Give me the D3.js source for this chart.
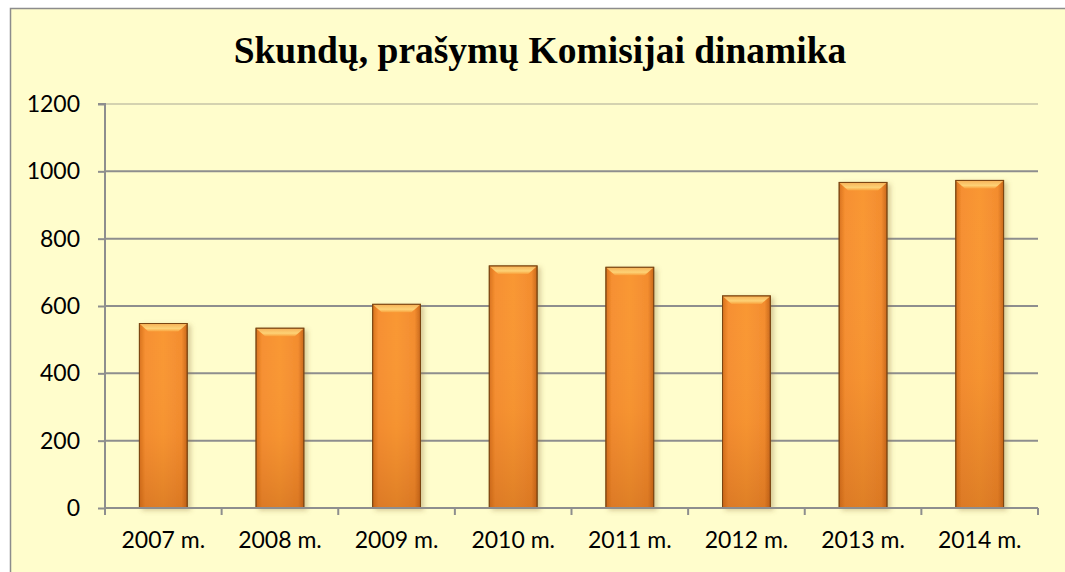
<!DOCTYPE html>
<html>
<head>
<meta charset="utf-8">
<script src="https://cdn.jsdelivr.net/npm/d3@7"></script>
<style>
  body { margin: 0; background: #fff; }
  svg { display: block; }
</style>
</head>
<body>
<script>
var years = ["2007 m.", "2008 m.", "2009 m.", "2010 m.", "2011 m.", "2012 m.", "2013 m.", "2014 m."];
var counts = [548, 534, 605, 719, 715, 630, 967, 973];
var yTicks = [0, 200, 400, 600, 800, 1000, 1200];
var title = "Skundų, prašymų Komisijai dinamika";

var W = 1065, H = 572;
var margin = {top: 104, right: 27, bottom: 64, left: 105},
    width = W - margin.left - margin.right,
    height = H - margin.top - margin.bottom;

var svg = d3.select("body").append("svg")
    .attr("width", W)
    .attr("height", H);

// gradients for the bevelled bars
var defs = svg.append("defs");
var gH = defs.append("linearGradient").attr("id", "barH")
    .attr("x1", 0).attr("x2", 1).attr("y1", 0).attr("y2", 0);
gH.append("stop").attr("offset", "0%").attr("stop-color", "#d8721e");
gH.append("stop").attr("offset", "12%").attr("stop-color", "#f68f30");
gH.append("stop").attr("offset", "50%").attr("stop-color", "#f99733");
gH.append("stop").attr("offset", "88%").attr("stop-color", "#f38c2e");
gH.append("stop").attr("offset", "100%").attr("stop-color", "#c9681b");

var gV = defs.append("linearGradient").attr("id", "barV")
    .attr("x1", 0).attr("x2", 0).attr("y1", 0).attr("y2", 1);
gV.append("stop").attr("offset", "0%").attr("stop-color", "#ffffff").attr("stop-opacity", 0);
gV.append("stop").attr("offset", "60%").attr("stop-color", "#b05010").attr("stop-opacity", 0.05);
gV.append("stop").attr("offset", "100%").attr("stop-color", "#a04808").attr("stop-opacity", 0.3);

var gTop = defs.append("linearGradient").attr("id", "barTop")
    .attr("x1", 0).attr("x2", 0).attr("y1", 0).attr("y2", 1);
gTop.append("stop").attr("offset", "0%").attr("stop-color", "#f7b45a");
gTop.append("stop").attr("offset", "60%").attr("stop-color", "#fdd276");
gTop.append("stop").attr("offset", "100%").attr("stop-color", "#f9a13c");

var shadow = defs.append("filter").attr("id", "shadow")
    .attr("x", "-20%").attr("y", "-10%").attr("width", "150%").attr("height", "130%");
shadow.append("feDropShadow").attr("dx", 3).attr("dy", 2).attr("stdDeviation", 2.5)
    .attr("flood-color", "#8a6a30").attr("flood-opacity", 0.35);

// chart area background and frame
svg.append("rect")
    .attr("x", 10.5).attr("y", 8.5)
    .attr("width", W).attr("height", H)
    .attr("fill", "#fffdcc")
    .attr("stroke", "#8c8c8c")
    .attr("stroke-width", 1.5);

svg.append("text")
    .attr("x", 540)
    .attr("y", 63)
    .attr("text-anchor", "middle")
    .style("font-family", "'Liberation Serif', 'Times New Roman', serif")
    .style("font-weight", "bold")
    .style("font-size", "37.5px")
    .text(title);

var g = svg.append("g")
    .attr("transform", "translate(" + margin.left + "," + margin.top + ")");

var x = d3.scaleBand()
    .domain(years)
    .range([0, width])
    .paddingInner(0.59)
    .paddingOuter(0.295);

var xEdge = d3.scalePoint()
    .domain(d3.range(years.length + 1))
    .range([0, width]);

var y = d3.scaleLinear()
    .domain([0, 1200])
    .range([height, 0]);

// gridlines
g.selectAll(".grid")
    .data(yTicks.filter(function(d) { return d > 0; }))
  .enter().append("line")
    .attr("class", "grid")
    .attr("x1", 0).attr("x2", width)
    .attr("y1", function(d) { return y(d); })
    .attr("y2", function(d) { return y(d); })
    .attr("stroke", function(d) { return d === 1200 ? "#d4d2b0" : "#8e8e8e"; })
    .attr("stroke-width", 2);

// bars
var bar = g.selectAll(".bar")
    .data(counts)
  .enter().append("g")
    .attr("class", "bar")
    .attr("transform", function(d, i) { return "translate(" + x(years[i]) + "," + y(d) + ")"; });

var bw = x.bandwidth();

bar.append("rect")
    .attr("width", bw)
    .attr("height", function(d) { return height - y(d); })
    .attr("fill", "url(#barH)")
    .attr("stroke", "#7a4512")
    .attr("stroke-width", 1)
    .attr("filter", "url(#shadow)");

bar.append("rect")
    .attr("width", bw)
    .attr("height", function(d) { return height - y(d); })
    .attr("fill", "url(#barV)");

bar.append("path")
    .attr("d", "M0.5,0.5 L" + (bw - 0.5) + ",0.5 L" + (bw - 9) + ",8 L9,8 Z")
    .attr("fill", "url(#barTop)");

bar.append("rect")
    .attr("width", bw)
    .attr("height", function(d) { return height - y(d); })
    .attr("fill", "none")
    .attr("stroke", "#7a4512")
    .attr("stroke-opacity", 0.8)
    .attr("stroke-width", 1);

// y axis
var yAxis = g.append("g")
    .attr("class", "axis axis--y")
    .call(d3.axisLeft(y).tickValues(yTicks).tickFormat(d3.format("d")).tickSize(7).tickPadding(18));

// x axis
var xAxis = g.append("g")
    .attr("class", "axis axis--x")
    .attr("transform", "translate(0," + height + ")")
    .call(d3.axisBottom(x).tickSize(0).tickPadding(24));

g.append("g")
    .attr("transform", "translate(0," + height + ")")
  .selectAll("line")
    .data(xEdge.domain())
  .enter().append("line")
    .attr("x1", function(d) { return xEdge(d); })
    .attr("x2", function(d) { return xEdge(d); })
    .attr("y1", 0).attr("y2", 7)
    .attr("stroke", "#8e8e8e")
    .attr("stroke-width", 2);

g.selectAll(".axis path, .axis line")
    .attr("stroke", "#8e8e8e")
    .attr("stroke-width", 2);

g.selectAll(".axis text")
    .style("font-family", "Lato, 'Noto Sans', sans-serif")
    .style("font-size", "23px")
    .attr("fill", "#000");

g.select(".axis--y .domain").attr("d", "M0," + height + "V0H-7");
g.select(".axis--x .domain").attr("d", "M0,0H" + width);
</script>
</body>
</html>
